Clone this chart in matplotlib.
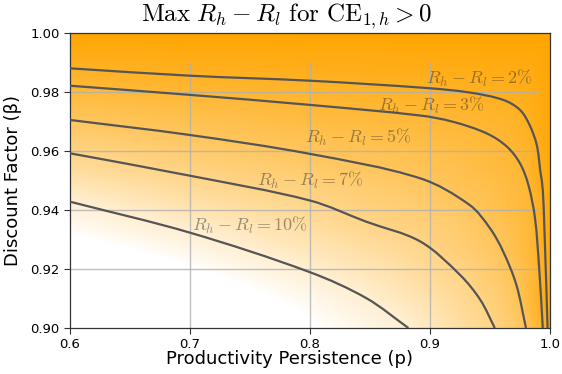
import numpy as np
import matplotlib
matplotlib.use("Agg")
import matplotlib.pyplot as plt
import matplotlib.tri as mtri
from matplotlib.path import Path
from matplotlib.patches import PathPatch

plt.rcParams["mathtext.fontset"] = "cm"

# ── contour traces: persistence p vs discount factor beta ──────
levels = [0.02, 0.03, 0.05, 0.07, 0.10]
level_names = ["2%", "3%", "5%", "7%", "10%"]

p_2 = [0.600, 0.700, 0.800, 0.898, 0.933, 0.961, 0.975, 0.983, 0.989, 0.992, 0.994, 0.996, 0.998]
b_2 = [0.9880, 0.9855, 0.9838, 0.9813, 0.9798, 0.9773, 0.9739, 0.9688, 0.9620, 0.9530, 0.9468, 0.9259, 0.9000]

p_3 = [0.600, 0.700, 0.800, 0.892, 0.919, 0.947, 0.964, 0.975, 0.982, 0.9875, 0.991, 0.994]
b_3 = [0.9821, 0.9790, 0.9756, 0.9720, 0.9699, 0.9660, 0.9615, 0.9558, 0.9485, 0.9373, 0.9203, 0.9000]

p_5 = [0.600, 0.700, 0.800, 0.892, 0.933, 0.950, 0.961, 0.972, 0.980]
b_5 = [0.9705, 0.9654, 0.9590, 0.9507, 0.9417, 0.9338, 0.9259, 0.9146, 0.9000]

p_7 = [0.600, 0.700, 0.800, 0.847, 0.892, 0.925, 0.942, 0.954]
b_7 = [0.9592, 0.9516, 0.9432, 0.9360, 0.9293, 0.9180, 0.9095, 0.9000]

p_10 = [0.600, 0.700, 0.800, 0.847, 0.882]
b_10 = [0.9428, 0.9323, 0.9189, 0.9101, 0.9000]

curves_p = [p_2, p_3, p_5, p_7, p_10]
curves_b = [b_2, b_3, b_5, b_7, b_10]

# label anchors (centre of each text)
label_p = [0.941, 0.901, 0.840, 0.800, 0.750]
label_b = [0.9847, 0.9753, 0.9645, 0.9500, 0.9346]

# shading anchors at the frame: spread is ~0 along the top and right edge
edge_p = [0.6, 0.7, 0.8, 0.9, 0.95, 1.0, 1.0, 1.0, 0.6]
edge_b = [1.0, 1.0, 1.0, 1.0, 1.0, 1.0, 0.95, 0.9, 0.9]
edge_v = [0.0, 0.0, 0.0, 0.0, 0.0, 0.0, 0.0, 0.0, 0.14]

P_MIN, P_MAX = 0.6, 1.0
B_MIN, B_MAX = 0.9, 1.0
FADE = 0.11          # spread at which the shading is fully white
ORANGE = np.array([1.0, 165 / 255, 0.0])


def spread_field(n=300):
    """Linear interpolation of the traced levels over the plot area."""
    pts_p = np.concatenate([np.concatenate(curves_p), edge_p])
    pts_b = np.concatenate([np.concatenate(curves_b), edge_b])
    vals = np.concatenate([np.full(len(cp), lv) for cp, lv in zip(curves_p, levels)] + [edge_v])
    u = (pts_p - P_MIN) / (P_MAX - P_MIN)
    v = (pts_b - B_MIN) / (B_MAX - B_MIN)
    tri = mtri.Triangulation(u, v)
    interp = mtri.LinearTriInterpolator(tri, vals)
    gu, gv = np.meshgrid(np.linspace(0, 1, n), np.linspace(0, 1, n))
    f = np.ma.filled(interp(gu, gv), FADE)
    # soften the triangle facets
    k = 21
    ker = np.ones(k) / k
    pad = np.pad(f, k // 2, mode="edge")
    pad = np.apply_along_axis(lambda r: np.convolve(r, ker, mode="valid"), 1, pad)
    pad = np.apply_along_axis(lambda c: np.convolve(c, ker, mode="valid"), 0, pad)
    return pad


def smooth_path(xs, ys, sx=480 / 0.4, sy=295 / 0.1):
    """Cubic Bezier path through the points (tangent from neighbours)."""
    pts = np.column_stack([np.asarray(xs) * sx, np.asarray(ys) * sy])
    n = len(pts)
    tang = np.zeros_like(pts)
    for i in range(n):
        a = pts[max(i - 1, 0)]
        b = pts[min(i + 1, n - 1)]
        d = b - a
        tang[i] = d / np.hypot(*d)
    verts, codes = [pts[0]], [Path.MOVETO]
    for i in range(n - 1):
        seg = np.hypot(*(pts[i + 1] - pts[i])) / 3
        verts += [pts[i] + tang[i] * seg, pts[i + 1] - tang[i + 1] * seg, pts[i + 1]]
        codes += [Path.CURVE4] * 3
    verts = np.array(verts) / [sx, sy]
    return Path(verts, codes)


field = spread_field()
alpha = (np.clip(1 - field / FADE, 0, 1) ** 0.75)[..., None]
rgb = (1 - alpha) * np.ones(3) + alpha * ORANGE

fig = plt.figure(figsize=(5.62, 3.74), dpi=100)
ax = fig.add_axes([0.1246, 0.123, 0.854, 0.789])

ax.imshow(rgb, origin="lower", extent=[P_MIN, P_MAX, B_MIN, B_MAX],
          aspect="auto", interpolation="bilinear", zorder=0)

# grid only over the computed range
for x in [0.7, 0.8, 0.9]:
    ax.vlines(x, B_MIN, 0.99, color="#b0b0b0", lw=1, alpha=0.8, zorder=1)
for y in [0.92, 0.94, 0.96, 0.98]:
    ax.hlines(y, P_MIN, 0.99, color="#b0b0b0", lw=1, alpha=0.8, zorder=1)

for cp, cb in zip(curves_p, curves_b):
    ax.add_patch(PathPatch(smooth_path(cp, cb), facecolor="none",
                           edgecolor="#555555", lw=1.6, zorder=3))

for lp, lb, name in zip(label_p, label_b, level_names):
    ax.text(lp, lb, r"$R_h - R_l = %s$" % name.replace("%", r"\%"),
            ha="center", va="center", fontsize=13, color="#333333",
            alpha=0.5, zorder=4)

ax.set_xlim(P_MIN, P_MAX)
ax.set_ylim(B_MIN, B_MAX)
ax.set_xticks([0.6, 0.7, 0.8, 0.9, 1.0])
ax.set_yticks([0.90, 0.92, 0.94, 0.96, 0.98, 1.00])
ax.set_xticklabels(["0.6", "0.7", "0.8", "0.9", "1.0"])
ax.set_yticklabels(["0.90", "0.92", "0.94", "0.96", "0.98", "1.00"])
ax.tick_params(direction="out", length=4, width=0.8, labelsize=9.5, color="#333333")
for s in ax.spines.values():
    s.set_color("#333333")
    s.set_linewidth(0.9)

ax.set_xlabel("Productivity Persistence (p)", fontsize=13, labelpad=2)
ax.xaxis.set_label_coords(0.457, -0.075)
ax.set_ylabel("Discount Factor (β)", fontsize=13, labelpad=6)
fig.text(286.5 / 562, 1 - 16 / 374,
         r"$\mathrm{Max}\ R_h - R_l\ \mathrm{for}\ \mathrm{CE}_{1,h} > 0$",
         fontsize=18, ha="center", va="center")

fig.savefig("out.png", dpi=100)
